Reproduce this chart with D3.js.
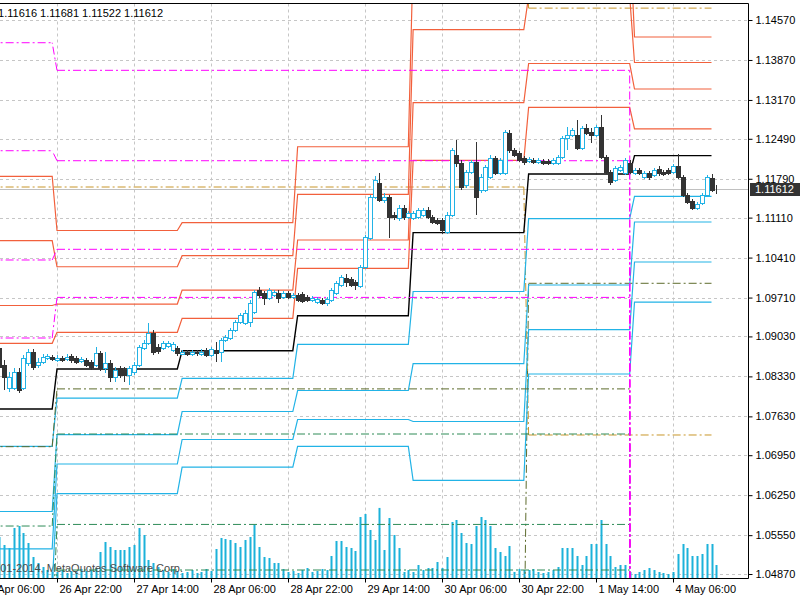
<!DOCTYPE html>
<html>
<head>
<meta charset="utf-8">
<script src="https://cdn.jsdelivr.net/npm/d3@7"></script>
<style>
  body { margin: 0; background: #fff; }
  svg { display: block; }
  text { font-family: "Liberation Sans", Arial, sans-serif; font-size: 11px; }
</style>
</head>
<body>
<svg id="chart" width="800" height="600"></svg>
<script>
// ---- data (EURUSD H1, bar index 0 = 26 Apr 22:00) ----
const firstBar = -12;
const opens = [
  1.08827,1.08529,1.08126,1.08126,1.08407,1.08126,1.08564,1.08757,1.08529,1.08582,1.08652,1.08669,
  1.08617,1.08652,1.08634,1.08687,1.08652,1.08599,1.08617,1.08582,1.08529,1.08739,1.08477,1.08564,
  1.08319,1.08477,1.08442,1.08354,1.08407,1.08529,1.08827,1.08914,1.09090,1.08844,1.08827,1.08862,
  1.08792,1.08827,1.08722,1.08757,1.08722,1.08757,1.08722,1.08792,1.08704,1.08792,1.08757,1.08967,
  1.09002,1.09142,1.09282,1.09265,1.09282,1.09457,1.09842,1.09790,1.09702,1.09755,1.09790,1.09720,
  1.09790,1.09720,1.09755,1.09772,1.09720,1.09667,1.09632,1.09667,1.09615,1.09667,1.09790,1.09930,
  1.10053,1.10035,1.09983,1.09912,1.10245,1.10753,1.11471,1.11716,1.11418,1.11471,1.11156,1.11103,
  1.11278,1.11121,1.11103,1.11121,1.11156,1.11243,1.11121,1.11068,1.11068,1.10858,1.11156,1.12206,
  1.12066,1.11681,1.11909,1.12084,1.11593,1.11593,1.11821,1.12154,1.11891,1.11891,1.12591,1.12294,
  1.12241,1.12154,1.12101,1.12119,1.12084,1.12101,1.12101,1.12066,1.12066,1.12171,1.12504,1.12556,
  1.12556,1.12329,1.12679,1.12609,1.12556,1.12696,1.12171,1.11909,1.11768,1.11944,1.11891,1.12066,
  1.11891,1.11944,1.11821,1.11891,1.11856,1.11961,1.11909,1.11944,1.11909,1.12014,1.11821,1.11506,
  1.11401,1.11278,1.11366,1.11506,1.11804,1.11616
];
const highs = [
  1.08967,1.08617,1.08407,1.08477,1.08477,1.08704,1.08809,1.08809,1.08652,1.08722,1.08722,1.08704,
  1.08704,1.08687,1.08722,1.08722,1.08687,1.08669,1.08652,1.08617,1.08844,1.08774,1.08757,1.08617,
  1.08494,1.08512,1.08494,1.08512,1.08582,1.08879,1.08967,1.09265,1.09142,1.08897,1.08949,1.08949,
  1.08932,1.08862,1.08792,1.08792,1.08792,1.08792,1.08809,1.08827,1.08844,1.08932,1.09002,1.09055,
  1.09177,1.09317,1.09440,1.09492,1.09667,1.09842,1.09895,1.09825,1.09877,1.09842,1.09842,1.09825,
  1.09825,1.09790,1.09790,1.09807,1.09755,1.09737,1.09720,1.09702,1.09720,1.09877,1.10000,1.10105,
  1.10123,1.10070,1.10018,1.10280,1.10805,1.11506,1.11838,1.11891,1.11541,1.11506,1.11208,1.11331,
  1.11331,1.11226,1.11226,1.11278,1.11278,1.11296,1.11156,1.11103,1.11103,1.11208,1.12329,1.12469,
  1.12119,1.11944,1.12119,1.12434,1.11874,1.12031,1.12206,1.12189,1.12154,1.12644,1.12644,1.12329,
  1.12276,1.12189,1.12171,1.12154,1.12154,1.12136,1.12136,1.12154,1.12206,1.12539,1.12696,1.12679,
  1.12819,1.12714,1.12749,1.12679,1.12731,1.12907,1.12206,1.11944,1.12014,1.12031,1.12154,1.12119,
  1.11979,1.11979,1.11926,1.11926,1.11979,1.12014,1.11944,1.11979,1.12049,1.12224,1.11856,1.11541,
  1.11436,1.11383,1.11541,1.11856,1.11874,1.11681
];
const lows = [
  1.08179,1.08091,1.08056,1.08091,1.08039,1.08091,1.08512,1.08442,1.08477,1.08547,1.08617,1.08599,
  1.08582,1.08582,1.08599,1.08564,1.08547,1.08564,1.08494,1.08442,1.08494,1.08424,1.08389,1.08232,
  1.08232,1.08302,1.08232,1.08179,1.08354,1.08494,1.08792,1.08879,1.08704,1.08722,1.08792,1.08827,
  1.08757,1.08687,1.08704,1.08687,1.08687,1.08687,1.08687,1.08669,1.08669,1.08582,1.08582,1.08932,
  1.08967,1.09107,1.09247,1.09230,1.09195,1.09422,1.09702,1.09580,1.09667,1.09720,1.09615,1.09685,
  1.09685,1.09685,1.09632,1.09615,1.09632,1.09632,1.09597,1.09580,1.09562,1.09632,1.09755,1.09895,
  1.09895,1.09895,1.09842,1.09877,1.10210,1.10718,1.11436,1.11383,1.11366,1.10753,1.11068,1.11051,
  1.11068,1.11086,1.11068,1.11086,1.11121,1.11086,1.10998,1.10981,1.10823,1.10823,1.11121,1.11996,
  1.11593,1.11628,1.11874,1.11156,1.11541,1.11558,1.11786,1.11856,1.11856,1.11856,1.12241,1.12171,
  1.12084,1.12031,1.12066,1.12049,1.12049,1.12031,1.12031,1.12031,1.12031,1.12136,1.12294,1.12521,
  1.12294,1.12294,1.12556,1.12416,1.12521,1.12136,1.11874,1.11681,1.11733,1.11909,1.11856,1.11874,
  1.11856,1.11856,1.11786,1.11768,1.11821,1.11838,1.11838,1.11856,1.11874,1.11786,1.11471,1.11348,
  1.11243,1.11243,1.11331,1.11471,1.11558,1.11522
];
const closes = [
  1.08494,1.08319,1.08319,1.08407,1.08091,1.08652,1.08757,1.08494,1.08582,1.08669,1.08687,1.08634,
  1.08652,1.08617,1.08669,1.08617,1.08582,1.08634,1.08529,1.08494,1.08739,1.08477,1.08564,1.08319,
  1.08442,1.08354,1.08354,1.08477,1.08529,1.08844,1.08914,1.09090,1.08757,1.08774,1.08914,1.08914,
  1.08897,1.08739,1.08757,1.08722,1.08757,1.08739,1.08757,1.08704,1.08809,1.08739,1.08967,1.09020,
  1.09142,1.09282,1.09405,1.09440,1.09615,1.09807,1.09755,1.09702,1.09842,1.09807,1.09702,1.09790,
  1.09720,1.09755,1.09667,1.09650,1.09667,1.09702,1.09685,1.09615,1.09685,1.09842,1.09965,1.10070,
  1.09983,1.09930,1.09930,1.10245,1.10770,1.11471,1.11768,1.11418,1.11471,1.11121,1.11121,1.11278,
  1.11121,1.11191,1.11191,1.11243,1.11243,1.11121,1.11033,1.11016,1.10893,1.11156,1.12294,1.12066,
  1.11646,1.11909,1.12084,1.11471,1.11821,1.11996,1.12154,1.11891,1.12119,1.12609,1.12294,1.12206,
  1.12119,1.12084,1.12136,1.12084,1.12119,1.12066,1.12066,1.12119,1.12171,1.12504,1.12556,1.12644,
  1.12329,1.12679,1.12591,1.12556,1.12696,1.12171,1.11909,1.11733,1.11979,1.11996,1.12119,1.11909,
  1.11944,1.11891,1.11891,1.11821,1.11944,1.11891,1.11874,1.11891,1.12014,1.11821,1.11506,1.11383,
  1.11278,1.11348,1.11506,1.11821,1.11593,1.11612
];
const volumes = [
  2560,2060,1880,3130,3250,2810,2190,1310,940,690,500,380,
  380,500,310,440,380,560,440,500,620,1630,2250,1940,
  1750,1750,1750,1940,2060,3130,2690,1130,940,690,500,380,
  560,440,310,380,500,310,380,560,440,1810,2500,2440,
  2380,2190,1940,2380,2560,3310,1940,1310,1250,940,940,560,
  380,440,310,500,620,380,440,560,500,1380,2310,2310,
  1940,1880,1690,3810,4000,3000,2380,4380,1750,3750,2690,1880,
  380,500,380,810,500,620,620,1000,620,1310,3500,3630,
  2810,2190,2130,3250,3810,3630,3250,1880,1630,1380,2000,380,
  560,500,500,560,380,310,380,500,690,1880,1880,1880,
  1380,810,1380,2130,2130,3630,2130,1380,690,810,810,380,
  250,380,500,620,500,380,310,250,380,1500,2130,1880,
  1380,1380,1500,2130,2130,810
];

// daily pivot levels (one value per trading day)
const dayStarts = [-14, 0, 26, 50, 74, 98, 120];
const lastLevelBar = 136;
const dayR4 = [1.11833, 1.10884, 1.11021, 1.12351, 1.15671, 1.16146, 1.14272];
const dayR3 = [1.10706, 1.10250, 1.10443, 1.11518, 1.14403, 1.14985, 1.13826];
const dayR2 = [1.09571, 1.09597, 1.09842, 1.10718, 1.13125, 1.13808, 1.13362];
const dayR1 = [1.08909, 1.09102, 1.09347, 1.10222, 1.12112, 1.13040, 1.12663];
const dayP  = [1.07759, 1.08459, 1.08780, 1.09392, 1.10847, 1.11873, 1.12196];
const dayS1 = [1.07106, 1.07951, 1.08296, 1.08890, 1.09816, 1.11094, 1.11483];
const dayS2 = [1.05964, 1.07309, 1.07715, 1.08083, 1.08552, 1.09930, 1.11033];
const dayS3 = [1.05311, 1.06796, 1.07225, 1.07575, 1.07540, 1.09149, 1.10333];
const dayS4 = [1.04665, 1.06279, 1.06743, 1.07106, 1.06509, 1.08372, 1.09632];

// weekly levels (current week still empty -> 0)
const weekStarts = [-14, 0, 120];
const weekR3 = [1.14172, 1.13689, 0];
const weekR2 = [1.12281, 1.12106, 0];
const weekR1 = [1.10368, 1.10555, 0];
const weekP  = [1.09002, 1.09713, 0];
const weekS1 = [1.07099, 1.08111, 0];
const weekS2 = [1.05710, 1.07321, 0];
const weekS3 = [1.03800, 1.05738, 0];
const weekS4 = [1.02400, 1.04940, 0];

// monthly levels (April, May)
const monthStarts = [-14, 98];
const monthR1 = [1.16500, 1.14778];
const monthP  = [1.03000, 1.09960];
const monthS1 = [1.11646, 1.07304];

const priceTicks = [1.14570, 1.13870, 1.13170, 1.12490, 1.11790, 1.11110, 1.10410,
  1.09710, 1.09030, 1.08330, 1.07630, 1.06950, 1.06250, 1.05550, 1.04870];
const timeBars = [-16, 0, 16, 32, 48, 64, 80, 96, 112, 128];
const timeLabels = ["24 Apr 06:00", "26 Apr 22:00", "27 Apr 14:00", "28 Apr 06:00", "28 Apr 22:00",
  "29 Apr 14:00", "30 Apr 06:00", "30 Apr 22:00", "1 May 14:00", "4 May 06:00"];
const lastQuote = [1.11616, 1.11681, 1.11522, 1.11612];

// ---- layout ----
const W = 748.5, T = 3.5, B = 578.5;
const red = "#f2603c", cyan = "#22b3e6", bear = "#333333";

const svg = d3.select("#chart");
const x = d3.scaleLinear().domain([0, 128]).range([57, 673]);
const y = d3.scaleLinear().domain([1.04870, 1.14570]).range([574, 20]);
const v = d3.scaleLinear().domain([0, 4000]).range([578, 514]);

svg.append("defs").append("clipPath").attr("id", "plot")
  .append("rect").attr("x", 0).attr("y", T).attr("width", W).attr("height", B - T);

const plot = svg.append("g").attr("clip-path", "url(#plot)");

// grid
plot.append("g").selectAll("line").data(timeBars).join("line")
  .attr("x1", d => Math.round(x(d)) + 0.5).attr("x2", d => Math.round(x(d)) + 0.5)
  .attr("y1", T).attr("y2", B)
  .attr("stroke", "#c6c6c6").attr("stroke-dasharray", "3,3");
plot.append("g").selectAll("line").data(priceTicks).join("line")
  .attr("x1", 0).attr("x2", W)
  .attr("y1", d => Math.round(y(d)) + 0.5).attr("y2", d => Math.round(y(d)) + 0.5)
  .attr("stroke", "#c6c6c6").attr("stroke-dasharray", "3,3");

// bid line
plot.append("line")
  .attr("x1", 0).attr("x2", W)
  .attr("y1", Math.round(y(lastQuote[3])) + 0.5).attr("y2", Math.round(y(lastQuote[3])) + 0.5)
  .attr("stroke", "#c0c0c0");

const bars = d3.range(opens.length).map(k => ({
  i: firstBar + k, o: opens[k], h: highs[k], l: lows[k], c: closes[k], vol: volumes[k]
}));

// volumes
plot.append("g").selectAll("line").data(bars).join("line")
  .attr("x1", d => Math.round(x(d.i)) + 0.5).attr("x2", d => Math.round(x(d.i)) + 0.5)
  .attr("y1", v(0)).attr("y2", d => v(d.vol))
  .attr("stroke", "#1cb2da").attr("stroke-width", 2);

// copyright
plot.append("text")
  .attr("x", 183).attr("y", 572).attr("text-anchor", "end")
  .attr("fill", "#4a4a4a")
  .text("© 2001-2014, MetaQuotes Software Corp.");

// stepped level lines
function levelPoints(starts, values) {
  const pts = [];
  values.forEach((val, k) => {
    const a = starts[k];
    const b = k + 1 < starts.length ? starts[k + 1] - 1 : lastLevelBar;
    pts.push([a, val], [b, val]);
  });
  return pts;
}
// dashed levels: one piece per period and per jump, jumps drawn from their low end
// so that jumps sharing the same low point keep the same dash phase
function levelPieces(starts, values) {
  const pts = levelPoints(starts, values);
  const pieces = [];
  for (let k = 0; k < pts.length - 1; k++) {
    const p = pts[k], q = pts[k + 1];
    pieces.push(k % 2 === 1 && p[1] > q[1] ? [q, p] : [p, q]);
  }
  return pieces;
}
const line = d3.line().x(d => x(d[0])).y(d => y(d[1]));

const dashDot = "8,3,2,3";
const dashed = [
  { s: monthStarts, v: monthP,  color: "#5d6b2c" },
  { s: monthStarts, v: monthR1, color: "#c8962a" },
  { s: monthStarts, v: monthS1, color: "#c8962a" }
];
const solid = [
  { s: dayStarts, v: dayR4, color: red, w: 1.2 },
  { s: dayStarts, v: dayR3, color: red, w: 1.2 },
  { s: dayStarts, v: dayR2, color: red, w: 1.2 },
  { s: dayStarts, v: dayR1, color: red, w: 1.2 },
  { s: dayStarts, v: dayS1, color: cyan, w: 1.2 },
  { s: dayStarts, v: dayS2, color: cyan, w: 1.2 },
  { s: dayStarts, v: dayS3, color: cyan, w: 1.2 },
  { s: dayStarts, v: dayS4, color: cyan, w: 1.2 },
  { s: dayStarts, v: dayP,  color: "#000", w: 1.4 }
];
const weekly = [
  { s: weekStarts, v: weekS1, color: "#5d6b2c" },
  { s: weekStarts, v: weekS2, color: "#2e8b57" },
  { s: weekStarts, v: weekS3, color: "#2e8b57" },
  { s: weekStarts, v: weekS4, color: "#2e8b57" },
  { s: weekStarts, v: weekR3, color: "#ff00ff" },
  { s: weekStarts, v: weekR2, color: "#ff00ff" },
  { s: weekStarts, v: weekR1, color: "#ff00ff" },
  { s: weekStarts, v: weekP,  color: "#ff00ff" }
];

function drawDashed(list) {
  const g = plot.append("g");
  list.forEach(d => {
    g.append("g").selectAll("path").data(levelPieces(d.s, d.v)).join("path")
      .attr("d", line)
      .attr("fill", "none")
      .attr("stroke", d.color)
      .attr("stroke-width", 1)
      .attr("stroke-dasharray", dashDot);
  });
}

drawDashed(dashed);
plot.append("g").selectAll("path").data(solid).join("path")
  .attr("d", d => line(levelPoints(d.s, d.v)))
  .attr("fill", "none")
  .attr("stroke", d => d.color)
  .attr("stroke-width", d => d.w);
drawDashed(weekly);

// candles
const cg = plot.append("g").attr("shape-rendering", "crispEdges");
const candle = cg.selectAll("g").data(bars).join("g");
candle.append("line")
  .attr("x1", d => Math.round(x(d.i)) + 0.5).attr("x2", d => Math.round(x(d.i)) + 0.5)
  .attr("y1", d => y(d.h)).attr("y2", d => y(d.l))
  .attr("stroke", d => d.c >= d.o ? cyan : bear);
candle.append("rect")
  .attr("x", d => Math.round(x(d.i)) - 1.5)
  .attr("width", 4)
  .attr("y", d => Math.round(y(Math.max(d.o, d.c))) + 0.5)
  .attr("height", d => Math.max(0, Math.round(y(Math.min(d.o, d.c))) - Math.round(y(Math.max(d.o, d.c)))))
  .attr("fill", d => d.c >= d.o ? "#fff" : bear)
  .attr("stroke", d => d.c >= d.o ? cyan : bear);

// header quote
svg.append("text")
  .attr("x", 163).attr("y", 17).attr("text-anchor", "end").attr("fill", "#000")
  .text(lastQuote.map(d3.format(".5f")).join(" "));

// frame
svg.append("path")
  .attr("d", `M0,${T}H${W}V${B}H0`)
  .attr("fill", "none").attr("stroke", "#000");

// axes
const yAxis = d3.axisRight(y).tickValues(priceTicks).tickFormat(d3.format(".5f")).tickSize(4).tickPadding(3);
svg.append("g").attr("transform", `translate(${W},0)`).call(yAxis)
  .call(g => g.select(".domain").remove())
  .call(g => g.selectAll("text").attr("font-family", "Liberation Sans, Arial, sans-serif").attr("font-size", 11).attr("fill", "#000"));

const xAxis = d3.axisBottom(x).tickValues(timeBars).tickFormat((d, k) => timeLabels[k]).tickSize(4).tickPadding(3);
svg.append("g").attr("transform", `translate(0,${B})`).call(xAxis)
  .call(g => g.select(".domain").remove())
  .call(g => g.selectAll("text").attr("text-anchor", "start").attr("x", 2)
    .attr("font-family", "Liberation Sans, Arial, sans-serif").attr("font-size", 11).attr("fill", "#000"));

// current price label
const py = y(lastQuote[3]);
svg.append("rect").attr("x", 750).attr("y", Math.round(py) - 6).attr("width", 50).attr("height", 13).attr("fill", "#333");
svg.append("text").attr("x", 755).attr("y", Math.round(py) + 4).attr("fill", "#fff")
  .text(d3.format(".5f")(lastQuote[3]));
</script>
</body>
</html>
